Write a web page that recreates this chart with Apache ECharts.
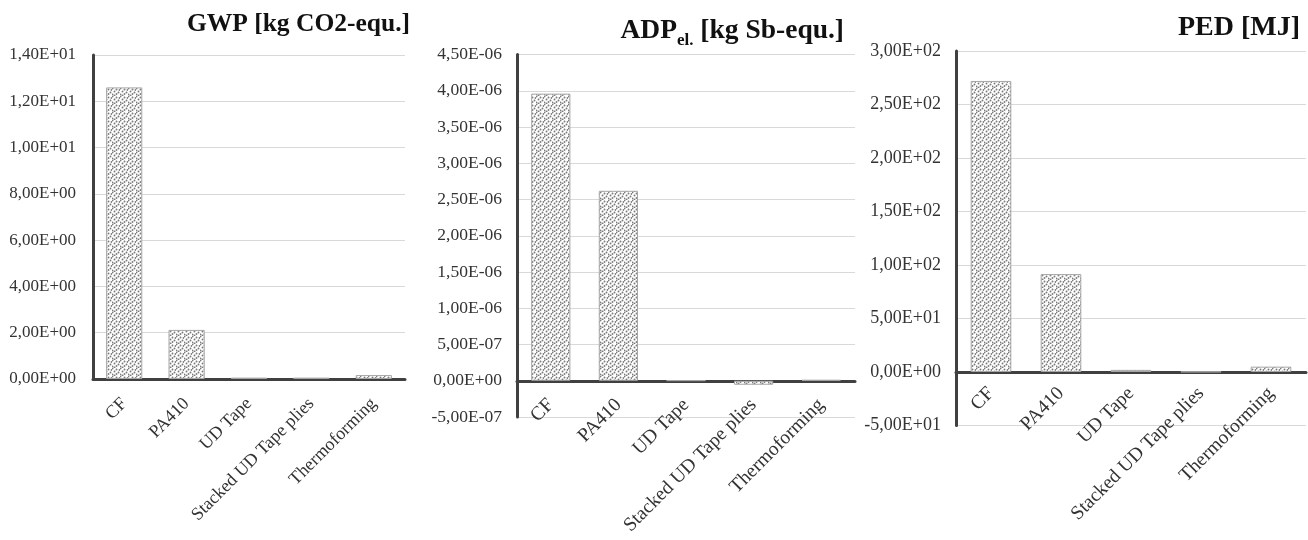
<!DOCTYPE html>
<html><head><meta charset="utf-8">
<script src="https://cdn.jsdelivr.net/npm/echarts@6/dist/echarts.min.js"></script>
<style>html,body{margin:0;padding:0;background:#fff}#c{width:1308px;height:540px}</style>
</head><body><div id="c"></div>
<script>
const categories = ['CF', 'PA410', 'UD Tape', 'Stacked UD Tape plies', 'Thermoforming'];
const gwpValues = [12.6, 2.12, 0.06, 0.06, 0.17];
const adpValues = [3.96e-6, 2.62e-6, 0.004e-6, -0.055e-6, 0.012e-6];
const pedValues = [272, 91.5, 2, 0.3, 5];
const gwpTicks = [0, 14, 2];            // min, max, interval
const adpTicks = [-5e-7, 4.5e-6, 5e-7];
const pedTicks = [-50, 300, 50];

function makePattern() {
  const c = document.createElement('canvas');
  c.width = 8; c.height = 8;
  const ctx = c.getContext('2d');
  ctx.fillStyle = '#ffffff'; ctx.fillRect(0, 0, 8, 8);
  ctx.fillStyle = '#7a7a7a';
  [[0,0],[4,1],[2,3],[6,4],[0,6],[4,5.5],[7,1.5],[2,7]].forEach(p => {
    ctx.beginPath(); ctx.arc(p[0] + 0.5, p[1] + 0.5, 0.95, 0, Math.PI * 2); ctx.fill();
  });
  return c;
}
const pattern = { image: makePattern(), repeat: 'repeat' };

function sci(v) {
  if (Math.abs(v) < 1e-20) return '0,00E+00';
  let s = Number(v).toExponential(2);
  let [m, e] = s.split('e');
  let sign = e[0] === '-' ? '-' : '+';
  let ex = e.replace(/[+-]/, '');
  if (ex.length < 2) ex = '0' + ex;
  return m.replace('.', ',') + 'E' + sign + ex;
}

const font = 'Liberation Serif';
const txt = '#333333';
const grids = [
  { left: 93, right: 903, top: 55, bottom: 161 },
  { left: 517, right: 453, top: 54.5, bottom: 123 },
  { left: 956, right: 2, top: 51, bottom: 114.5 }
];
const ticks = [gwpTicks, adpTicks, pedTicks];
const values = [gwpValues, adpValues, pedValues];
const xFont = [18, 19.5, 19.5];
const xMargin = [22, -15, -35];
const yFont = [17, 17.5, 18];
const yMargin = [17, 15, 15];

const chart = echarts.init(document.getElementById('c'));
chart.setOption({
  backgroundColor: '#fff',
  animation: false,
  title: [
    { text: 'GWP [kg CO2-equ.]', right: 893, top: 6, textStyle: { fontFamily: font, fontSize: 25.5, fontWeight: 'bold', color: '#111' } },
    { text: '{a|ADP}{s|el.}{a| [kg Sb-equ.]}', right: 459, top: 9,
      textStyle: { fontFamily: font, color: '#111',
        rich: { a: { fontFamily: font, fontSize: 27.5, fontWeight: 'bold', color: '#111', verticalAlign: 'bottom', lineHeight: 31 },
                s: { fontFamily: font, fontSize: 17, fontWeight: 'bold', color: '#111', verticalAlign: 'bottom', lineHeight: 23, padding: [0, 0, -4, 0] } } } },
    { text: 'PED [MJ]', right: 3, top: 9, textStyle: { fontFamily: font, fontSize: 28, fontWeight: 'bold', color: '#111' } }
  ],
  grid: grids,
  xAxis: grids.map((g, i) => ({
    type: 'category', gridIndex: i, data: categories,
    axisLine: { onZero: true, lineStyle: { color: '#404040', width: 3 } },
    axisTick: { show: false },
    axisLabel: { rotate: 45, interval: 0, fontFamily: font, fontSize: xFont[i], color: txt, margin: xMargin[i] }
  })),
  yAxis: grids.map((g, i) => ({
    type: 'value', gridIndex: i, min: ticks[i][0], max: ticks[i][1], interval: ticks[i][2],
    axisLine: { show: true, lineStyle: { color: '#404040', width: 3 } },
    axisTick: { show: false },
    splitLine: { lineStyle: { color: '#d9d9d9', width: 1 } },
    axisLabel: { fontFamily: font, fontSize: yFont[i], color: txt, margin: yMargin[i], formatter: sci }
  })),
  series: values.map((v, i) => ({
    type: 'bar', xAxisIndex: i, yAxisIndex: i, data: v, barWidth: '58%',
    itemStyle: { color: pattern, borderColor: '#a6a6a6', borderWidth: 1 }
  }))
});
</script></body></html>
